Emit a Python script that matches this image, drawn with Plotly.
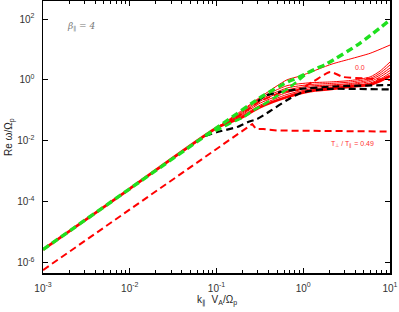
import plotly.graph_objects as go

# ---- data (k = k_par V_A / Omega_p, w = Re omega / Omega_p) ----
k_bundle = [0.001, 0.01, 0.1, 0.19, 0.32, 0.65, 1.2, 2.0, 3.5, 5.9, 7.7, 10]
w_red0 = [2.6e-6, 2.6e-4, 0.026, 0.0554, 0.127, 0.272, 0.428, 0.498, 0.60, 0.70, 0.914, 1.33]
w_red1 = [2.6e-6, 2.6e-4, 0.026, 0.062, 0.148, 0.329, 0.498, 0.558, 0.625, 0.785, 1.06, 1.67]
w_red2 = [2.6e-6, 2.6e-4, 0.026, 0.067, 0.172, 0.382, 0.558, 0.625, 0.70, 0.879, 1.24, 2.02]
w_red3 = [2.6e-6, 2.6e-4, 0.026, 0.072, 0.200, 0.462, 0.625, 0.674, 0.755, 0.985, 1.44, 2.44]
w_red4 = [2.6e-6, 2.6e-4, 0.026, 0.078, 0.225, 0.537, 0.700, 0.755, 0.847, 1.10, 1.67, 3.07]
w_red5 = [2.6e-6, 2.6e-4, 0.026, 0.084, 0.252, 0.640, 0.800, 0.847, 0.948, 1.24, 1.95, 3.85]

k_red_top = [0.001, 0.01, 0.1, 0.19, 0.32, 0.65, 0.92, 2.15, 3.47, 5.9, 10]
w_red_top = [2.6e-6, 2.6e-4, 0.026, 0.092, 0.27, 1.0, 1.33, 3.31, 4.83, 7.44, 13.9]

k_red_hump = [0.1, 0.19, 0.32, 0.6, 0.86, 1.3, 2.04, 2.88, 4.9, 10]
w_red_hump = [0.026, 0.072, 0.2, 0.40, 0.462, 0.867, 1.81, 1.24, 1.12, 0.985]

k_red_low = [0.001, 0.01, 0.1, 0.258, 0.286, 0.345, 0.5, 0.92, 3.0, 10]
w_red_low = [5.5e-7, 5.5e-5, 5.5e-3, 0.035, 0.0241, 0.0241, 0.0215, 0.0215, 0.0205, 0.0199]

k_green1 = [0.001, 0.01, 0.1, 0.345, 0.67, 0.86, 1.11, 1.44, 1.88, 4.53, 10]
w_green1 = [2.6e-6, 2.6e-4, 0.026, 0.30, 0.87, 1.15, 1.67, 2.39, 3.4, 16.1, 92.7]

k_green2 = [0.074, 0.102, 0.164, 0.198, 0.265, 0.336, 0.45, 0.706, 1.05]
w_green2 = [0.0143, 0.0223, 0.0441, 0.0554, 0.0977, 0.143, 0.243, 0.579, 1.44]

k_black1 = [0.074, 0.102, 0.173, 0.231, 0.294, 0.416, 0.653, 0.97, 1.88, 10]
w_black1 = [0.0143, 0.0192, 0.028, 0.041, 0.0514, 0.094, 0.217, 0.382, 0.498, 0.48]

k_black2 = [0.30, 0.365, 0.542, 0.92, 2.21, 10]
w_black2 = [0.20, 0.30, 0.397, 0.498, 0.602, 0.674]

x_tickvals = [1e-3, 1e-2, 1e-1, 1, 10]
x_ticktext = ["10<sup>-3</sup>", "10<sup>-2</sup>", "10<sup>-1</sup>", "10<sup>0</sup>", "10<sup>1</sup>"]
x_minor = [m * d for d in [1e-3, 1e-2, 1e-1, 1] for m in range(2, 10)]
y_tickvals = [1e-6, 1e-4, 1e-2, 1, 100]
y_ticktext = ["10<sup>-6</sup>", "10<sup>-4</sup>", "10<sup>-2</sup>", "10<sup>0</sup>", "10<sup>2</sup>"]

RED = "#ff0000"
GREEN = "#1fe01f"
BLACK = "#000000"
DASH = "7px,4px"

fig = go.Figure()

def add(k, w, color, width, dash="solid", shape="spline"):
    line = dict(color=color, width=width, dash=dash, shape=shape)
    if shape == "spline":
        line["smoothing"] = 0.6
    fig.add_trace(go.Scatter(x=k, y=w, mode="lines", line=line,
                             showlegend=False, hoverinfo="skip"))

# red solid family
for w in [w_red1, w_red2, w_red3, w_red4, w_red5]:
    add(k_bundle, w, RED, 1)
add(k_red_top, w_red_top, RED, 1)
add(k_bundle, w_red0, RED, 2.8)
# red dashed
add(k_red_hump, w_red_hump, RED, 2, DASH)
add(k_red_low, w_red_low, RED, 2, DASH, "linear")
# black dashed
add(k_black1, w_black1, BLACK, 2.2, DASH)
add(k_black2, w_black2, BLACK, 2.2, DASH)
# green dashed
add(k_green2, w_green2, GREEN, 2.6, DASH)
add(k_green1, w_green1, GREEN, 3.4, DASH)

axis_common = dict(type="log", showgrid=False, zeroline=False, showline=True,
                   linecolor="black", linewidth=1.5, mirror="ticks", automargin=False,
                   ticks="inside", ticklen=5, tickwidth=1, tickcolor="black",
                   tickfont=dict(family="Liberation Sans, Arial", size=10, color="#333"))

fig.update_xaxes(range=[-3, 1], tickmode="array", tickvals=x_tickvals, ticktext=x_ticktext,
                 minor=dict(tickvals=x_minor, ticks="inside", ticklen=3, tickcolor="black"),
                 ticklabelstandoff=5, **axis_common)
fig.update_yaxes(range=[-6.355, 2.592], tickmode="array", tickvals=y_tickvals, ticktext=y_ticktext,
                 ticklabelstandoff=5, **axis_common)

annotations = [
    dict(text="β<sub>∥</sub> = 4", x=0.1095, y=0.908, font=dict(family="DejaVu Serif", size=9, color="#777", style="italic")),
    dict(text="0.0", x=0.9135, y=0.754, font=dict(family="Liberation Sans, Arial", size=7, color="#ff3030")),
    dict(text="T<sub>⊥</sub> / T<sub>∥</sub> = 0.49", x=0.8905, y=0.474, font=dict(family="Liberation Sans, Arial", size=7, color="#ff3030")),
    dict(text="Re ω/Ω<sub>p</sub>", x=-0.098, y=0.5, textangle=-90, font=dict(family="Liberation Sans, Arial", size=10, color="#222")),
    dict(text="k<sub>∥</sub>  V<sub>A</sub>/Ω<sub>p</sub>", x=0.5, y=-0.102, font=dict(family="Liberation Sans, Arial", size=10, color="#222")),
]
for a in annotations:
    a.update(xref="paper", yref="paper", showarrow=False, xanchor="center", yanchor="middle")

fig.update_layout(width=399, height=312, margin=dict(l=43, r=9, t=1, b=39, autoexpand=False),
                  plot_bgcolor="white", paper_bgcolor="white", annotations=annotations,
                  showlegend=False)

fig.write_html("out.html", config={"displayModeBar": False, "staticPlot": True},
               post_script="document.body.style.margin='0';document.body.style.padding='0';"
                           "document.documentElement.style.overflow='hidden';")
